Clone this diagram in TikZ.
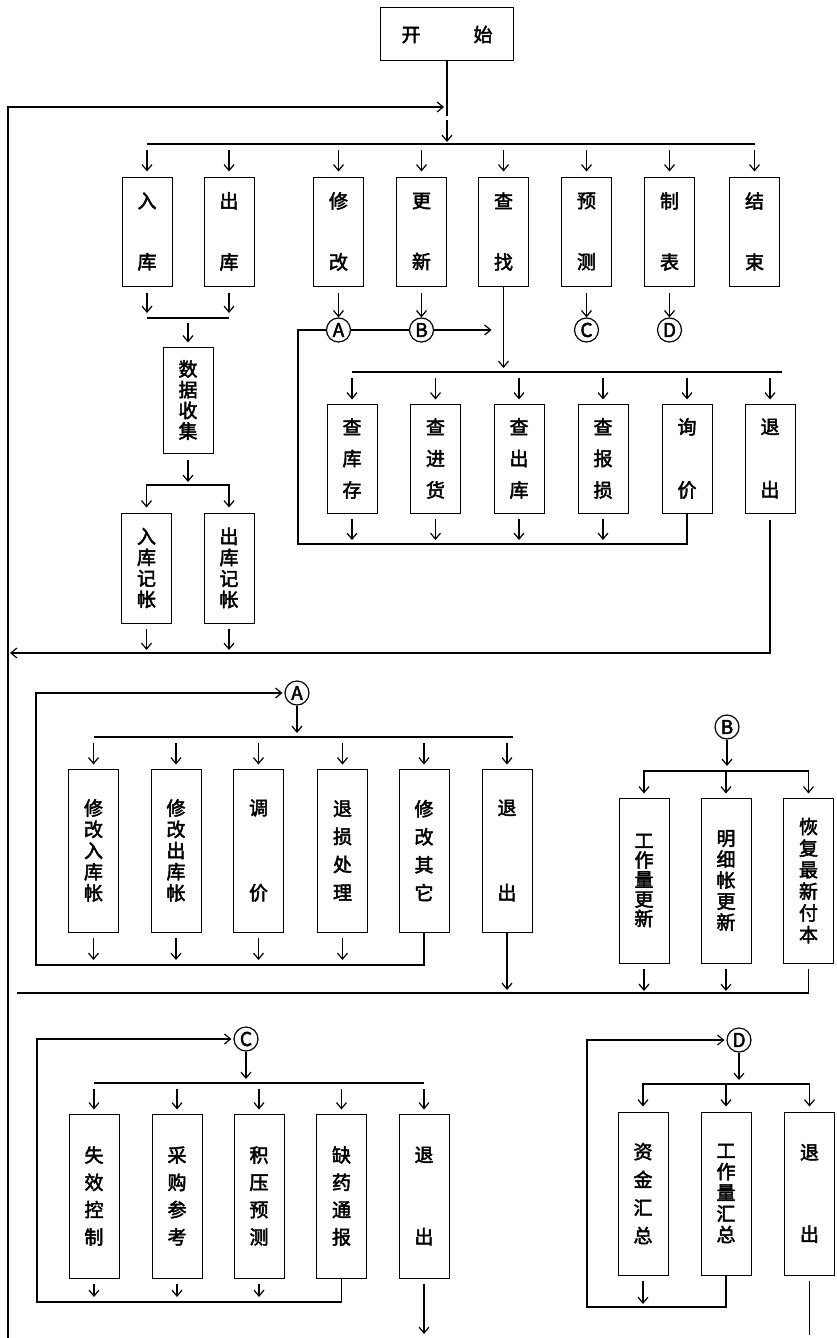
\documentclass[tikz,border=0pt]{standalone}
\usepackage{fontspec}
\newfontfamily\cjkb[FakeBold=2.5]{Noto Sans CJK SC}
\usetikzlibrary{arrows.meta, positioning, calc}
\tikzset{
  % --- Khung chuc nang ------------------------------------------
  menubox/.style={draw, line width=1pt, minimum width=50pt,
    minimum height=#1, inner sep=0pt, align=center},
  txt/.style={font=\cjkb\fontsize{19}{#1}\selectfont},
  startbox/.style={draw, line width=1pt, minimum width=133pt,
    minimum height=53pt, inner sep=0pt, font=\cjkb\fontsize{19}{19}\selectfont},
  quan/.style={draw, circle, line width=1.2pt, minimum size=24pt, inner sep=0pt,
    font=\cjkb\fontsize{19}{19}\selectfont},
  % --- Duong noi ------------------------------------------------
  fl/.style={-{Straight Barb[length=6pt, width=10pt, line width=1.2pt]}, line width=1.2pt},
  ln/.style={line width=1.2pt}
}

\begin{document}
\begin{tikzpicture}[x=1pt, y=-1pt]
  \useasboundingbox (0,0) rectangle (836,1338);

  % --- Bat dau va menu chinh --------------------------------------
  \node[startbox] (batdau) at (447,34.5) {开\hspace{53pt}始};
  \coordinate (j0) at (447,116);
  \coordinate (busM) at (447,144);
  \coordinate (retTop) at (8,107);
  \coordinate (retBot) at (8,1338);

  \draw[ln] (batdau.south) -- (j0);
  \draw[fl, shorten >=3pt] (retBot) -- (retTop) -- (retTop -| j0);
  \draw[fl, shorten <=4pt, shorten >=2pt] (j0) -- (busM);

  \node[menubox=109, txt=61] (ruku)    at (147,231.5)   {入\\库};
  \node[menubox=109, txt=61] (chuku)   at (229,231.5)   {出\\库};
  \node[menubox=109, txt=61] (xiugai)  at (338.5,231.5) {修\\改};
  \node[menubox=109, txt=61] (gengxin) at (421.5,231.5) {更\\新};
  \node[menubox=109, txt=61] (chazhao) at (503.5,231.5) {查\\找};
  \node[menubox=109, txt=61] (yuce)    at (586.5,231.5) {预\\测};
  \node[menubox=109, txt=61] (zhibiao) at (669.5,231.5) {制\\表};
  \node[menubox=109, txt=61] (jieshu)  at (754.5,231.5) {结\\束};

  \draw[ln] (busM -| ruku) -- (busM -| jieshu);
  \foreach \n in {ruku,chuku,xiugai,gengxin,chazhao,yuce,zhibiao,jieshu}
    \draw[fl, shorten <=6pt, shorten >=5pt] (busM -| \n) -- (\n.north);

  % --- Cac diem noi A, B, C, D ------------------------------------
  \node[quan] (qA) at (338.5,330) {A};
  \node[quan] (qB) at (421.5,330) {B};
  \node[quan] (qC) at (586.5,330) {C};
  \node[quan] (qD) at (669.5,330) {D};
  \draw[fl, shorten <=6pt] (xiugai.south) -- (qA);
  \draw[fl, shorten <=6pt] (gengxin.south) -- (qB);
  \draw[fl, shorten <=6pt] (yuce.south) -- (qC);
  \draw[fl, shorten <=6pt] (zhibiao.south) -- (qD);
  \draw[ln] (qA) -- (qB);
  \draw[fl, line width=2pt, shorten >=12pt] (qB) -- (qB -| chazhao);

  % --- Nhap / xuat kho --------------------------------------------
  \coordinate (hb1) at (188,318);
  \draw[ln] (hb1 -| ruku) -- (hb1 -| chuku);
  \foreach \n in {ruku,chuku}
    \draw[fl, shorten <=6pt, shorten >=5pt] (\n.south) -- (\n.south |- hb1);
  \node[menubox=106, txt=20.7] (shuju) at (188,400) {数\\据\\收\\集};
  \draw[fl, shorten <=5pt, shorten >=4pt] (hb1) -- (shuju.north);
  \coordinate (fk1) at (188,485);
  \draw[fl, shorten <=6pt, shorten >=3pt] (shuju.south) -- (fk1);
  \node[menubox=110, txt=21] (rkjz) at (146.5,568) {入\\库\\记\\帐};
  \node[menubox=110, txt=21] (ckjz) at (229,568)   {出\\库\\记\\帐};
  \draw[fl, shorten >=5pt] (fk1) -| (rkjz.north);
  \draw[fl, shorten >=5pt] (fk1) -| (ckjz.north);

  % --- Tra cuu ----------------------------------------------------
  \coordinate (busS) at (503.5,372);
  \coordinate (busS2) at (503.5,544);
  \coordinate (hook) at (298,330);
  \draw[fl, shorten >=4pt] (chazhao.south) -- (busS);
  \node[menubox=109, txt=31.5] (chaks)   at (352,458.5)   {查\\库\\存};
  \node[menubox=109, txt=31.5] (chajh)   at (435.5,458.5) {查\\进\\货};
  \node[menubox=109, txt=31.5] (chack)   at (519,458.5)   {查\\出\\库};
  \node[menubox=109, txt=31.5] (chabs)   at (603,458.5)   {查\\报\\损};
  \node[menubox=109, txt=63]   (xunjia)  at (687,458.5)   {询\\价};
  \node[menubox=109, txt=63]   (tuichuA) at (770,458.5)   {退\\出};
  \draw[ln] (busS -| chaks) -- ([xshift=12pt]busS -| tuichuA);
  \foreach \n in {chaks,chajh,chack,chabs,xunjia,tuichuA}
    \draw[fl, shorten <=6pt, shorten >=4pt] (busS -| \n) -- (\n.north);
  \foreach \n in {chaks,chajh,chack,chabs}
    \draw[fl, shorten <=5pt, shorten >=4pt] (\n.south) -- (\n.south |- busS2);
  \draw[ln] (xunjia.south) -- (xunjia.south |- busS2) -- (busS2 -| hook) -- (hook) -- (qA);

  % --- Quay ve menu chinh -----------------------------------------
  \coordinate (retL) at (10,653);
  \draw[fl, shorten <=6pt] (tuichuA.south) -- (tuichuA.south |- retL) -- (retL);
  \foreach \n in {rkjz,ckjz}
    \draw[fl, shorten <=5pt, shorten >=3pt] (\n.south) -- (\n.south |- retL);

  % --- Nhanh A: sua doi -------------------------------------------
  \node[quan] (qA2) at (297,693) {A};
  \coordinate (busA) at (297,737);
  \coordinate (busA2) at (36,965);
  \coordinate (busBot) at (17,993);
  \node[menubox=163, txt=21.2] (xgrk)    at (93.5,850.5)  {修\\改\\入\\库\\帐};
  \node[menubox=163, txt=21.2] (xgck)    at (176,850.5)   {修\\改\\出\\库\\帐};
  \node[menubox=163, txt=85]   (tiaojia) at (258.5,850.5) {调\\价};
  \node[menubox=163, txt=28]   (tscl)    at (342.5,850.5) {退\\损\\处\\理};
  \node[menubox=163, txt=28]   (xgqt)    at (424,850.5)   {修\\改\\其\\它};
  \node[menubox=163, txt=85]   (tuichuB) at (507,850.5)   {退\\出};
  \draw[fl, shorten >=4pt] (qA2) -- (busA);
  \draw[ln] (busA -| xgrk) -- ([xshift=6pt]busA -| tuichuB);
  \foreach \n in {xgrk,xgck,tiaojia,tscl,xgqt,tuichuB}
    \draw[fl, shorten <=6pt, shorten >=4pt] (busA -| \n) -- (\n.north);
  \foreach \n in {xgrk,xgck,tiaojia,tscl}
    \draw[fl, shorten <=5pt, shorten >=5pt] (\n.south) -- (\n.south |- busA2);
  \draw[fl, shorten >=2pt] (xgqt.south) -- (xgqt.south |- busA2) -- (busA2)
    -- (busA2 |- qA2) -- (qA2);
  \draw[fl, shorten >=3pt] (tuichuB.south) -- (tuichuB.south |- busBot);

  % --- Nhanh B: cap nhat ------------------------------------------
  \node[quan] (qB2) at (727,727) {B};
  \coordinate (fkB) at (727,771);
  \node[menubox=165, txt=19.5] (gzlgx) at (644,880.5)   {工\\作\\量\\更\\新};
  \node[menubox=165, txt=21]   (mxzgx) at (726,880.5)   {明\\细\\帐\\更\\新};
  \node[menubox=165, txt=21.6] (hfzx)  at (808.5,880.5) {恢\\复\\最\\新\\付\\本};
  \draw[fl, shorten >=5pt] (qB2) -- (fkB);
  \draw[fl, shorten >=4pt] (fkB) -| (gzlgx.north);
  \draw[fl, shorten >=4pt] (fkB) -| (hfzx.north);
  \draw[fl, shorten >=4pt] (fkB -| mxzgx) -- (mxzgx.north);
  \foreach \n in {gzlgx,mxzgx}
    \draw[fl, shorten <=5pt, shorten >=2pt] (\n.south) -- (\n.south |- busBot);
  \draw[ln, shorten <=5pt] (hfzx.south) -- (hfzx.south |- busBot);
  \draw[ln] (busBot) -- (busBot -| hfzx);

  % --- Nhanh C: du bao -------------------------------------------
  \node[quan] (qC2) at (246,1039) {C};
  \coordinate (busC) at (246,1083);
  \coordinate (busC2) at (37,1302);
  \coordinate (endC) at (424,1334);
  \node[menubox=164, txt=27.3] (sxkz)    at (94,1196)    {失\\效\\控\\制};
  \node[menubox=164, txt=27.3] (cgck)    at (177,1196)   {采\\购\\参\\考};
  \node[menubox=164, txt=27.3] (jyyc)    at (259,1196)   {积\\压\\预\\测};
  \node[menubox=164, txt=27.3] (qytb)    at (341.5,1196) {缺\\药\\通\\报};
  \node[menubox=164, txt=82]   (tuichuC) at (424,1196)   {退\\出};
  \draw[fl, shorten >=4pt] (qC2) -- (busC);
  \draw[ln] (busC -| sxkz) -- (busC -| tuichuC);
  \foreach \n in {sxkz,cgck,jyyc,qytb,tuichuC}
    \draw[fl, shorten <=6pt, shorten >=4pt] (busC -| \n) -- (\n.north);
  \foreach \n in {sxkz,cgck,jyyc}
    \draw[fl, shorten <=5pt, shorten >=5pt] (\n.south) -- (\n.south |- busC2);
  \draw[fl, shorten >=2pt] (qytb.south) -- (qytb.south |- busC2) -- (busC2)
    -- (busC2 |- qC2) -- (qC2);
  \draw[fl, shorten <=5pt] (tuichuC.south) -- (endC);

  % --- Nhanh D: lap bang -----------------------------------------
  \node[quan] (qD2) at (739,1040) {D};
  \coordinate (fkD) at (739,1084);
  \coordinate (busD2) at (587,1307);
  \coordinate (endD) at (809.5,1335);
  \node[menubox=163, txt=28]   (zjhz)    at (643,1193.5)   {资\\金\\汇\\总};
  \node[menubox=163, txt=21]   (gzlhz)   at (726,1193.5)   {工\\作\\量\\汇\\总};
  \node[menubox=163, txt=82]   (tuichuD) at (809.5,1193.5) {退\\出};
  \draw[fl, shorten >=4pt] (qD2) -- (fkD);
  \draw[fl, shorten >=5pt] (fkD) -| (zjhz.north);
  \draw[fl, shorten >=5pt] (fkD) -| (tuichuD.north);
  \draw[fl, shorten >=5pt] (fkD -| gzlhz) -- (gzlhz.north);
  \draw[fl, shorten <=5pt, shorten >=3pt] (zjhz.south) -- (zjhz.south |- busD2);
  \draw[fl, shorten >=2pt] (gzlhz.south) -- (gzlhz.south |- busD2) -- (busD2)
    -- (busD2 |- qD2) -- (qD2);
  \draw[ln, shorten <=5pt] (tuichuD.south) -- (endD);

\end{tikzpicture}
\end{document}
